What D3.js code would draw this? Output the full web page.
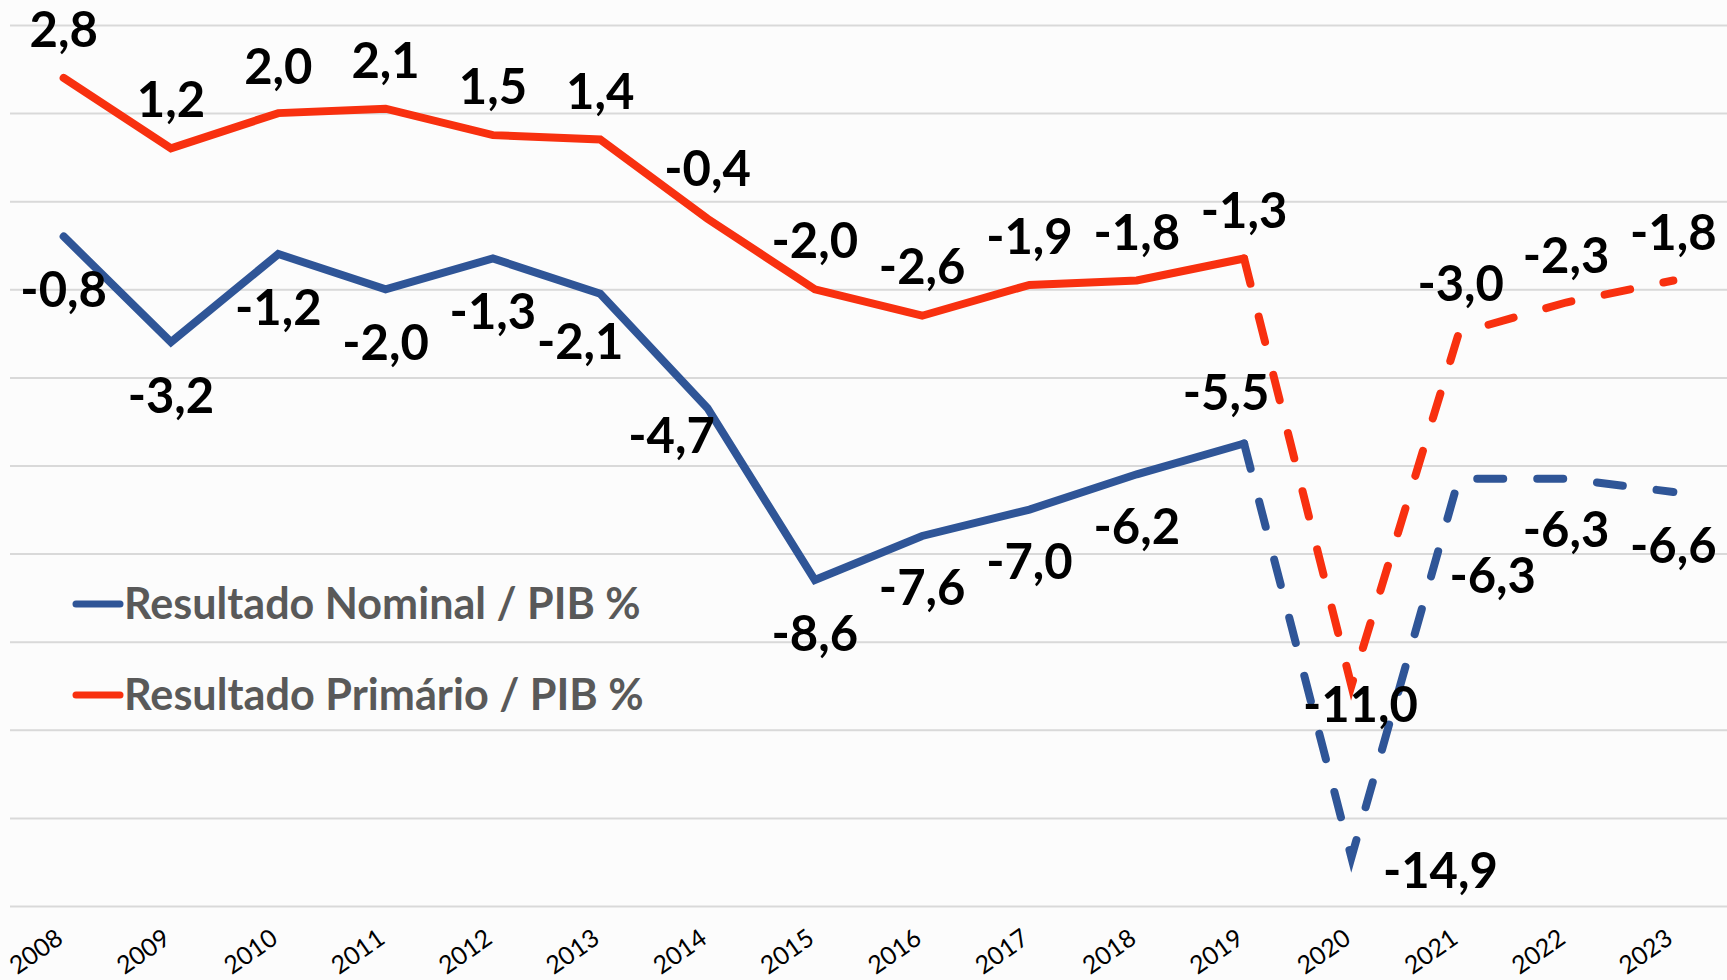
<!DOCTYPE html>
<html>
<head>
<meta charset="utf-8">
<script src="https://cdn.jsdelivr.net/npm/d3@7"></script>
<style>
  html, body { margin: 0; padding: 0; background: #fcfcfc; }
  svg { display: block; }
  .grid line { stroke: #d9d9d9; stroke-width: 2; }
  .grid path { display: none; }
  .value-label { font-family: Lato, sans-serif; font-weight: 700; font-size: 49px; fill: #000; }
  .legend-text { font-family: Lato, sans-serif; font-weight: 700; fill: #595959; }
  .x-label { font-family: Lato, sans-serif; font-size: 25px; fill: #000; }
</style>
</head>
<body>
<div id="d3-target"></div>
<script>
  const years = ['2008', '2009', '2010', '2011', '2012', '2013', '2014', '2015',
    '2016', '2017', '2018', '2019', '2020', '2021', '2022', '2023'];
  const nominal = [-0.8, -3.2, -1.2, -2.0, -1.3, -2.1, -4.7, -8.6,
    -7.6, -7.0, -6.2, -5.5, -14.9, -6.3, -6.3, -6.6];
  const primario = [2.8, 1.2, 2.0, 2.1, 1.5, 1.4, -0.4, -2.0,
    -2.6, -1.9, -1.8, -1.3, -11.0, -3.0, -2.3, -1.8];
  // first year drawn dashed (projection)
  const dashFrom = '2019';
  const yTicks = [4, 2, 0, -2, -4, -6, -8, -10, -12, -14, -16];

  // label offsets from the point (label centre), hand placed like the original
  const nominalOffsets = [[0, 54], [0, 54], [0, 54], [0, 54], [0, 54], [-20, 48], [-36, 28], [0, 54],
    [0, 52], [0, 52], [0, 53], [-18, -50], [89, 13], [34, 97], [0, 51], [0, 54]];
  const primarioOffsets = [[0, -48], [0, -48], [0, -46], [0, -48], [0, -48], [0, -48], [0, -50], [0, -48],
    [0, -49], [0, -48], [0, -47], [0, -47], [9, 19], [2, -49], [0, -47], [0, -47]];

  const series = [
    {key: 'nominal', values: nominal, offsets: nominalOffsets, color: '#2f5597', label: 'Resultado Nominal / PIB %'},
    {key: 'primario', values: primario, offsets: primarioOffsets, color: '#f8300f', label: 'Resultado Primário / PIB %'}
  ];

  const width = 1727, height = 980;
  const plot = {left: 10, right: 1727, top: 25, bottom: 906};

  const x = d3.scalePoint()
    .domain(years)
    .range([plot.left, plot.right])
    .padding(0.5);

  const y = d3.scaleLinear()
    .domain([-16, 4])
    .range([plot.bottom, plot.top]);

  const svg = d3.select('#d3-target')
    .append('svg')
    .attr('width', width)
    .attr('height', height);

  svg.append('g')
    .attr('class', 'grid')
    .call(d3.axisLeft(y).tickValues(yTicks).tickSize(-(plot.right - plot.left)).tickFormat(''))
    .attr('transform', `translate(${plot.left},0)`);

  svg.append('g')
    .selectAll('text')
    .data(years)
    .enter().append('text')
      .attr('class', 'x-label')
      .attr('text-anchor', 'end')
      .attr('transform', d => `translate(${x(d) + 1}, 942) rotate(-35)`)
      .text(d => d);

  const line = d3.line()
    .x(d => x(d.year))
    .y(d => y(d.value));

  const cut = years.indexOf(dashFrom);

  series.forEach(s => {
    const pts = years.map((yr, i) => ({year: yr, value: s.values[i]}));
    svg.append('path')
      .datum(pts.slice(0, cut + 1))
      .attr('fill', 'none')
      .attr('stroke', s.color)
      .attr('stroke-width', 8)
      .attr('stroke-linecap', 'round')
      .attr('stroke-linejoin', 'miter')
      .attr('d', line);
    svg.append('path')
      .datum(pts.slice(cut))
      .attr('fill', 'none')
      .attr('stroke', s.color)
      .attr('stroke-width', 8)
      .attr('stroke-linecap', 'round')
      .attr('stroke-linejoin', 'miter')
      .attr('stroke-dasharray', '26,34')
      .attr('d', line);
  });

  const fmt = v => d3.format('.1f')(v).replace('.', ',').replace('−', '-');

  series.forEach(s => {
    svg.append('g')
      .selectAll('text')
      .data(years.map((yr, i) => ({year: yr, value: s.values[i], off: s.offsets[i]})))
      .enter().append('text')
        .attr('class', 'value-label')
        .attr('text-anchor', 'middle')
        .attr('x', d => x(d.year) + d.off[0])
        .attr('y', d => y(d.value) + d.off[1] + 17)
        .text(d => fmt(d.value));
  });

  // legend
  const legend = svg.append('g');
  const legendRows = [619, 710];
  series.forEach((s, i) => {
    legend.append('line')
      .attr('x1', 76).attr('x2', 120)
      .attr('y1', legendRows[i] - 15).attr('y2', legendRows[i] - 15)
      .attr('stroke', s.color)
      .attr('stroke-width', 7)
      .attr('stroke-linecap', 'round');
    const t = legend.append('text')
      .attr('class', 'legend-text')
      .attr('x', 124)
      .attr('y', legendRows[i])
      .style('font-size', '44px')
      .text(s.label);
    // fit to the width used in the original
    const target = i === 0 ? 517 : 520;
    const w = t.node().getComputedTextLength();
    t.style('font-size', (44 * target / w).toFixed(1) + 'px');
  });
</script>
</body>
</html>
